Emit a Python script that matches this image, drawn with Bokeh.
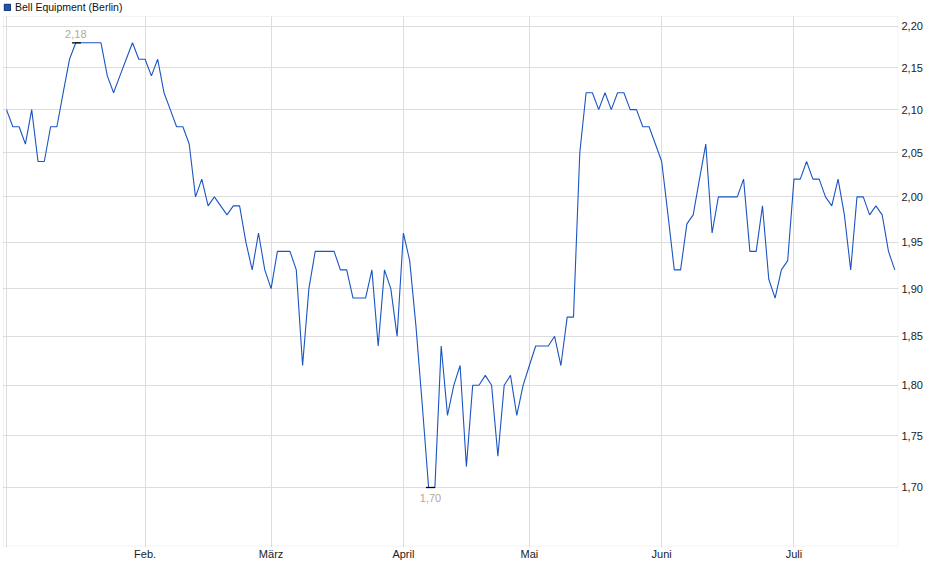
from bokeh.plotting import figure
from bokeh.models import (Range1d, FixedTicker, CustomJSTickFormatter,
                          Legend, LegendItem, BoxAnnotation)
from bokeh.core.properties import value
from bokeh.embed import file_html
from bokeh.resources import INLINE

# ---- data (closing prices, one per trading day) ----
series_name = "Bell Equipment (Berlin)"
prices = [
    2.10, 2.08, 2.08, 2.06, 2.10, 2.04, 2.04, 2.08, 2.08, 2.12,
    2.16, 2.18, 2.18, 2.18, 2.18, 2.18, 2.14, 2.12, 2.14, 2.16,
    2.18, 2.16, 2.16, 2.14, 2.16, 2.12, 2.10, 2.08, 2.08, 2.06,
    2.00, 2.02, 1.99, 2.00, 1.99, 1.98, 1.99, 1.99, 1.95, 1.92,
    1.96, 1.92, 1.90, 1.94, 1.94, 1.94, 1.92, 1.82, 1.90, 1.94,
    1.94, 1.94, 1.94, 1.92, 1.92, 1.89, 1.89, 1.89, 1.92, 1.84,
    1.92, 1.90, 1.85, 1.96, 1.93, 1.86, 1.78, 1.70, 1.70, 1.84,
    1.77, 1.80, 1.82, 1.72, 1.80, 1.80, 1.81, 1.80, 1.73, 1.80,
    1.81, 1.77, 1.80, 1.82, 1.84, 1.84, 1.84, 1.85, 1.82, 1.87,
    1.87, 2.05, 2.12, 2.12, 2.10, 2.12, 2.10, 2.12, 2.12, 2.10,
    2.10, 2.08, 2.08, 2.06, 2.04, 1.98, 1.92, 1.92, 1.97, 1.98,
    2.02, 2.06, 1.96, 2.00, 2.00, 2.00, 2.00, 2.02, 1.94, 1.94,
    1.99, 1.91, 1.89, 1.92, 1.93, 2.02, 2.02, 2.04, 2.02, 2.02,
    2.00, 1.99, 2.02, 1.98, 1.92, 2.00, 2.00, 1.98, 1.99, 1.98,
    1.94, 1.92,
]
month_labels = ["", "Feb.", "März", "April", "Mai", "Juni", "Juli"]
month_start_day = [0, 22, 42, 63, 83, 104, 125]   # trading-day index of month start
price_ticks = [1.70, 1.75, 1.80, 1.85, 1.90, 1.95, 2.00, 2.05, 2.10, 2.15, 2.20]

days = list(range(len(prices)))
FONT = "Liberation Sans"
LINE_COLOR = "#1a55c2"
BORDER = "#d6d6d6"

# chart area limits (x in trading-day units, y in price units, log scale)
X_START, X_END = -0.635, len(prices) - 0.41
BOX_LEFT, BOX_RIGHT = -0.476, len(prices) - 0.49
Y_BOTTOM, Y_TOP_VIEW = 1.6439, 2.2322
BOX_BOTTOM, BOX_TOP = 1.6453, 2.2123

p = figure(width=930, height=567, output_backend="svg", toolbar_location=None,
           y_axis_type="log", y_axis_location="right",
           x_range=Range1d(X_START, X_END),
           y_range=Range1d(Y_BOTTOM, Y_TOP_VIEW),
           min_border_left=2, min_border_right=32, min_border_top=0,
           min_border_bottom=20)
p.background_fill_color = "white"
p.border_fill_color = "white"
p.outline_line_color = None

# line
line_r = p.line(days, prices, line_color=LINE_COLOR, line_width=1.1)

# max / min markers
i_max = prices.index(max(prices))
i_min = prices.index(min(prices))
def fmt(v):
    return ("%.2f" % v).replace(".", ",")
p.scatter([i_max + 0.1, i_min + 0.3], [prices[i_max], prices[i_min]], marker="dash",
          size=9, line_color="black", line_width=1.3)
p.text([i_max], [prices[i_max]], text=[fmt(prices[i_max])], text_align="center",
       text_baseline="middle", y_offset=-9, text_color="#b4a994",
       text_font=value(FONT), text_font_size="11px")
p.text([i_min + 0.3], [prices[i_min]], text=[fmt(prices[i_min])], text_align="center",
       text_baseline="middle", y_offset=11, text_color="#b4a994",
       text_font=value(FONT), text_font_size="11px")

# axes
xa = p.xaxis[0]
xa.ticker = FixedTicker(ticks=month_start_day)
xa.formatter = CustomJSTickFormatter(args=dict(starts=month_start_day, names=month_labels),
    code="const i = starts.indexOf(Math.round(tick)); return i >= 0 ? names[i] : '';")
xa.axis_line_color = None
xa.major_tick_line_color = None
xa.minor_tick_line_color = None
xa.major_tick_out = 0
xa.major_tick_in = 0
xa.major_label_standoff = 0
xa.major_label_text_font = FONT
xa.major_label_text_font_size = "11px"
xa.major_label_text_color = "#222222"

ya = p.yaxis[0]
ya.ticker = FixedTicker(ticks=price_ticks, minor_ticks=[])
ya.formatter = CustomJSTickFormatter(code="return tick.toFixed(2).replace('.', ',');")
ya.axis_line_color = None
ya.major_tick_line_color = None
ya.minor_tick_line_color = None
ya.major_tick_out = 0
ya.major_tick_in = 0
ya.major_label_standoff = 3
ya.major_label_text_font = FONT
ya.major_label_text_font_size = "11px"
ya.major_label_text_color = "#222222"

p.xgrid.grid_line_color = "#dddddd"
p.ygrid.grid_line_color = "#dddddd"
p.xgrid.ticker = FixedTicker(ticks=month_start_day)
p.ygrid.ticker = FixedTicker(ticks=price_ticks)

# white strip above the chart area (holds the legend), then the chart border
p.add_layout(BoxAnnotation(bottom=BOX_TOP, fill_color="white", fill_alpha=1.0,
                           line_alpha=0))
p.add_layout(BoxAnnotation(left=BOX_LEFT, right=BOX_RIGHT, bottom=BOX_BOTTOM, top=BOX_TOP,
                           fill_alpha=0, line_color=BORDER, line_width=1))

# legend (square swatch) in the top strip; the swatch renderer lies outside the view
swatch = p.quad(left=[-60], right=[-55], bottom=[1.9], top=[2.0], fill_color="#1d55c0",
                line_color="#0b2a66", line_width=1)
legend = Legend(items=[LegendItem(label=series_name, renderers=[swatch])],
                location="top_left", orientation="horizontal",
                border_line_color=None, background_fill_alpha=0,
                padding=0, margin=1, spacing=0,
                glyph_width=8, glyph_height=8, label_height=10,
                label_standoff=4, label_text_font=FONT, label_text_font_size="10.5px",
                label_text_color="#111111")
p.add_layout(legend, "center")

open("out.html", "w").write(file_html(p, INLINE))
